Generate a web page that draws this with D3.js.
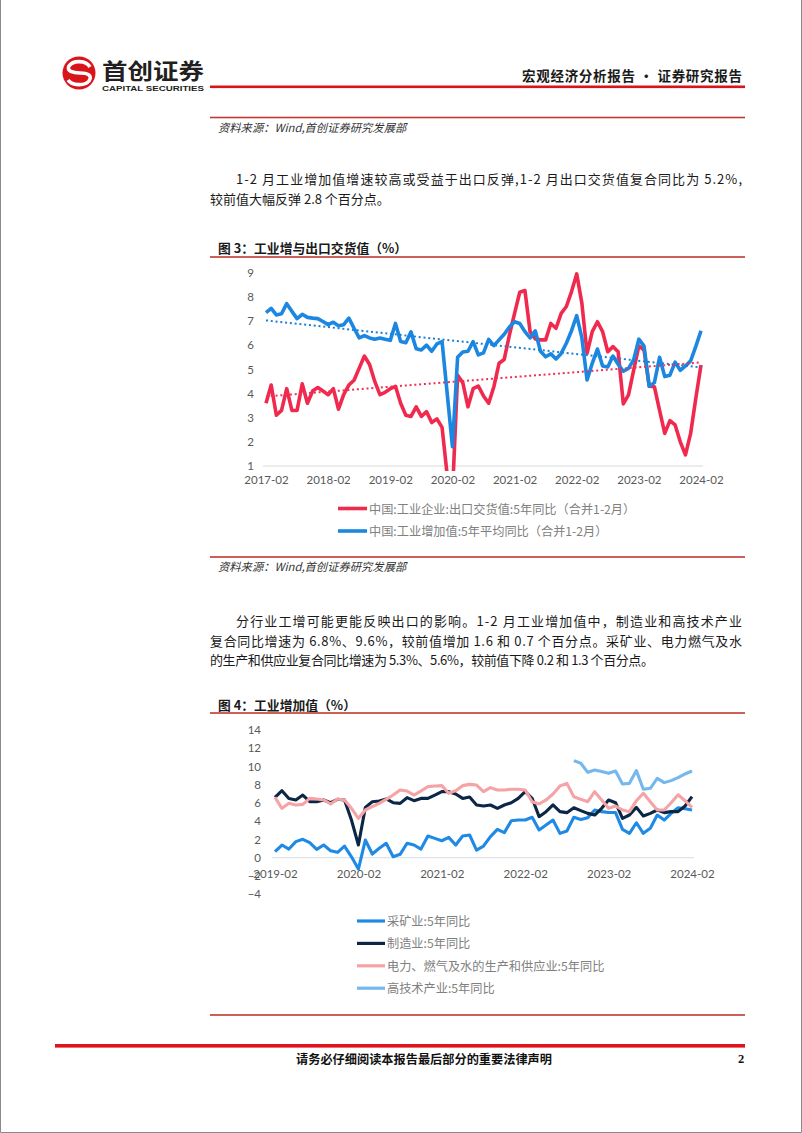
<!DOCTYPE html>
<html><head><meta charset="utf-8">
<script src="https://cdn.jsdelivr.net/npm/d3@7"></script>
<style>
html,body{margin:0;padding:0;background:#fff;}
svg{display:block;}
text{font-family:"Noto Sans CJK SC","Noto Sans",sans-serif;}
.tick text{font-family:Lato,"Open Sans",sans-serif;font-size:11.5px;fill:#595959;}
</style>
</head><body>
<svg id="page" width="802" height="1133"></svg>
<script>
// ---------------- DATA ----------------
// Chart 1 (monthly, 2017-02 .. 2024-02)
const chart1TickLabels = ["2017-02","2018-02","2019-02","2020-02","2021-02","2022-02","2023-02","2024-02"];
const chart1YTicks = [1,2,3,4,5,6,7,8,9];
const exportDeliveryYoY5 = [
  3.6,4.35,3.1,3.3,4.2,3.3,3.3,4.4,3.6,4.1,4.25,4.1,
  3.95,4.2,3.35,3.95,4.35,4.55,5.05,5.55,5.2,4.5,3.95,4.05,
  4.2,4.3,3.6,3.1,3.05,3.45,3.05,3.25,2.8,2.95,2.6,0.6,
  -0.2,4.75,4.45,3.45,4.2,4.31,3.9,3.6,4.28,5.25,5.41,6.42,
  7.32,8.19,8.26,6.56,6.26,6.22,6.22,6.9,6.7,7.32,7.6,8.22,
  8.95,7.73,5.66,6.56,6.97,6.56,5.73,5.94,5.73,3.57,3.94,4.97,
  5.97,5.8,4.3,4.28,3.3,2.35,2.88,2.7,2.0,1.46,2.35,3.8,
  5.18
];
const industrialVA5yAvg = [
  7.35,7.52,7.25,7.3,7.72,7.4,7.1,7.28,7.15,7.12,7.1,6.98,
  6.85,6.95,6.8,6.85,7.12,6.7,6.3,6.4,6.3,6.25,6.3,6.25,
  6.2,6.9,6.15,6.1,6.55,5.85,5.8,6.0,5.75,6.05,6.15,3.98,
  1.8,5.5,5.72,5.75,6.15,5.6,5.68,6.24,5.98,6.22,6.45,6.75,
  6.97,6.9,6.56,6.3,6.59,5.75,5.52,5.64,5.43,5.66,6.08,6.6,
  7.22,6.3,4.56,5.25,5.84,5.14,5.1,5.55,5.21,4.92,5.04,5.4,
  6.25,5.96,4.3,4.45,5.5,4.7,4.76,5.3,4.96,5.14,5.35,5.95,
  6.6
];
const chart1Legend = ["中国:工业企业:出口交货值:5年同比（合并1-2月）","中国:工业增加值:5年平均同比（合并1-2月）"];

// Chart 2 (monthly, 2019-02 .. 2024-02)
const chart2TickLabels = ["2019-02","2020-02","2021-02","2022-02","2023-02","2024-02"];
const chart2YTicks = [-4,-2,0,2,4,6,8,10,12,14];
const miningYoY5 = [
  0.66,1.39,0.95,1.76,2.02,1.65,0.92,1.39,0.77,0.59,1.28,0.1,
  -1.24,1.94,0.4,1.03,1.58,0.11,0.37,1.58,1.39,0.95,2.38,2.12,
  1.86,2.23,1.39,2.38,2.49,0.84,1.28,2.31,3.1,2.75,4.06,4.13,
  4.13,4.43,3.04,3.59,4.13,2.67,2.93,4.43,4.2,4.39,5.23,5.05,
  4.95,4.95,3.1,2.67,3.83,2.67,3.22,4.68,4.13,4.86,5.48,5.37,
  5.23
];
const manufacturingYoY5 = [
  6.62,7.35,6.5,6.33,6.87,6.14,6.14,6.33,6.03,6.4,6.33,4.13,
  1.39,5.52,6.14,6.22,6.44,6.03,5.96,6.58,6.25,6.5,6.5,6.87,
  7.24,7.24,6.98,6.5,6.65,5.78,5.67,5.78,5.41,5.78,6.03,6.51,
  7.24,6.51,4.5,5.05,5.78,5.05,4.94,5.48,5.16,4.86,4.68,5.41,
  6.33,6.03,4.32,4.68,5.52,4.57,4.86,5.23,4.94,5.05,5.05,5.67,
  6.69
];
const utilitiesYoY5 = [
  6.62,5.41,5.96,5.78,5.85,6.5,6.44,6.33,5.89,6.44,6.33,5.41,
  4.31,5.23,5.59,5.96,6.4,6.87,7.42,7.31,6.87,7.31,7.79,7.86,
  7.9,7.06,7.35,7.9,8.04,7.97,7.24,7.68,7.42,7.42,7.5,7.5,
  7.42,6.14,5.89,6.33,6.98,7.86,8.15,6.69,6.4,6.14,7.24,6.33,
  5.41,5.67,5.23,5.05,6.25,7.06,6.14,5.23,5.23,6.03,6.9,6.25,
  5.52
];
const hightechYoY5 = [
  null,null,null,null,null,null,null,null,null,null,null,null,
  null,null,null,null,null,null,null,null,null,null,null,null,
  null,null,null,null,null,null,null,null,null,null,null,null,
  null,null,null,null,null,null,null,10.64,10.35,9.36,9.62,9.44,
  9.25,9.51,8.08,8.15,9.55,7.5,7.61,8.7,8.23,8.45,8.78,9.18,
  9.51
];
const chart2Legend = ["采矿业:5年同比","制造业:5年同比","电力、燃气及水的生产和供应业:5年同比","高技术产业:5年同比"];

// ---------------- PAGE ----------------
const svg = d3.select('#page');
svg.append('rect').attr('width',802).attr('height',1133).attr('fill','#fff');
svg.append('path').attr('d','M0.5,0 V1132.5 H801.5 V0').attr('fill','none').attr('stroke','#8a8a8a').attr('stroke-width',1);

// logo
const logo = svg.append('g');
logo.append('circle').attr('cx',79).attr('cy',73).attr('r',16.5).attr('fill','#d9141b');
logo.append('path').attr('d','M90,67 C86,60 73,60 69,66 C66,71 73,73 80,73 C87,73 93,75 89,81 C85,86 72,86 68,80')
  .attr('fill','none').attr('stroke','#fff').attr('stroke-width',3.6);
svg.append('text').attr('x',102).attr('y',79).attr('font-size',21.5).attr('font-weight',700).attr('fill','#231f20')
  .attr('textLength',102).attr('lengthAdjust','spacingAndGlyphs').text('首创证券');
svg.append('text').attr('x',102).attr('y',90.5).attr('font-size',8).attr('font-weight',700).attr('fill','#231f20')
  .style('font-family','"Liberation Sans",Arial,sans-serif')
  .attr('textLength',102).attr('lengthAdjust','spacingAndGlyphs').text('CAPITAL SECURITIES');
svg.append('rect').attr('x',210).attr('y',85.5).attr('width',535).attr('height',2.6).attr('fill','#d7141a');
svg.append('text').attr('x',522).attr('y',75).attr('dominant-baseline','central').attr('font-size',13.5).attr('font-weight',700)
  .attr('fill','#1a1a1a').attr('textLength',220).attr('lengthAdjust','spacing').text('宏观经济分析报告 · 证券研究报告');

function sepLine(y){
  svg.append('rect').attr('x',210).attr('y',y-0.8).attr('width',535).attr('height',1.6).attr('fill','#c0392f');
}
function source(y){
  svg.append('text').attr('x',218).attr('y',y).attr('dominant-baseline','central').attr('font-size',11.3)
    .attr('font-style','italic').attr('fill','#333').text('资料来源：Wind,首创证券研究发展部');
}
function bodyLine(x,y,txt,w){
  const t = svg.append('text').attr('x',x).attr('y',y).attr('dominant-baseline','central').attr('font-size',13)
    .attr('fill','#1a1a1a').text(txt);
  if(w) t.attr('textLength',w).attr('lengthAdjust','spacing');
}
function figTitle(y,txt){
  svg.append('text').attr('x',218).attr('y',y).attr('dominant-baseline','central').attr('font-size',12.8)
    .attr('font-weight',700).attr('fill','#1a1a1a').text(txt);
}

sepLine(117.5);
source(127);
bodyLine(236,178,'1-2 月工业增加值增速较高或受益于出口反弹,1-2 月出口交货值复合同比为 5.2%,',506);
bodyLine(210,198,'较前值大幅反弹 2.8 个百分点。');
figTitle(247.5,'图 3：工业增与出口交货值（%）');
sepLine(257);

sepLine(557);
source(566);
bodyLine(236,620,'分行业工增可能更能反映出口的影响。1-2 月工业增加值中，制造业和高技术产业',506);
bodyLine(210,640,'复合同比增速为 6.8%、9.6%，较前值增加 1.6 和 0.7 个百分点。采矿业、电力燃气及水',532);
bodyLine(210,659.5,'的生产和供应业复合同比增速为 5.3%、5.6%，较前值下降 0.2 和 1.3 个百分点。',444);
figTitle(704.5,'图 4：工业增加值（%）');
sepLine(713);
sepLine(1015);

// footer
svg.append('rect').attr('x',55).attr('y',1044).attr('width',690).attr('height',3.6).attr('fill','#e0121b');
svg.append('text').attr('x',424).attr('y',1058.5).attr('text-anchor','middle').attr('dominant-baseline','central')
  .attr('font-size',12.2).attr('font-weight',700).attr('fill','#111').text('请务必仔细阅读本报告最后部分的重要法律声明');
svg.append('text').attr('x',741).attr('y',1058.5).attr('text-anchor','middle').attr('dominant-baseline','central')
  .attr('font-size',12.5).attr('font-weight',700).attr('fill','#111').style('font-family','"Liberation Serif",serif').text('2');

// ---------------- helpers ----------------
function regression(vals){
  const pts = vals.map((v,i)=>[i,v]).filter(d=>d[1]!=null);
  const mx = d3.mean(pts,d=>d[0]), my = d3.mean(pts,d=>d[1]);
  const b = d3.sum(pts,d=>(d[0]-mx)*(d[1]-my))/d3.sum(pts,d=>(d[0]-mx)*(d[0]-mx));
  return i => my + b*(i-mx);
}

// ---------------- CHART 1 ----------------
{
  const x = d3.scaleLinear().domain([0,84]).range([266,701]);
  const y = d3.scaleLinear().domain([1,9]).range([466,272.7]);
  const g = svg.append('g');
  svg.append('clipPath').attr('id','c1').append('rect').attr('x',255).attr('y',262).attr('width',455).attr('height',209);

  const ya = g.append('g').attr('transform','translate(262,0)')
    .call(d3.axisLeft(y).tickValues(chart1YTicks).tickFormat(d3.format('d')).tickSize(0).tickPadding(8));
  ya.select('.domain').remove();
  const xa = g.append('g').attr('transform',`translate(0,${y(1)})`)
    .call(d3.axisBottom(x).tickValues(chart1TickLabels.map((d,i)=>i*12)).tickFormat((d,i)=>chart1TickLabels[i]).tickSize(0).tickPadding(10));
  xa.select('.domain').remove();
  g.append('line').attr('x1',263).attr('x2',703).attr('y1',y(1)).attr('y2',y(1)).attr('stroke','#d9d9d9').attr('stroke-width',1);

  const lines = g.append('g').attr('clip-path','url(#c1)');
  const lineGen = d3.line().x((d,i)=>x(i)).y(d=>y(d));
  const series = [
    {v:exportDeliveryYoY5, c:'#f02a4e'},
    {v:industrialVA5yAvg, c:'#1b87e1'}
  ];
  series.forEach(s=>{
    lines.append('path').attr('d',lineGen(s.v)).attr('fill','none').attr('stroke',s.c)
      .attr('stroke-width',3.6).attr('stroke-linejoin','round');
  });
  // linear trendlines (least squares on the series)
  [{v:industrialVA5yAvg,c:'#1b7fd8'},{v:exportDeliveryYoY5,c:'#ef2f55'}].forEach(s=>{
    const f = regression(s.v);
    lines.append('line').attr('x1',x(0)).attr('x2',x(84)).attr('y1',y(f(0))).attr('y2',y(f(84)))
      .attr('stroke',s.c).attr('stroke-width',2).attr('stroke-dasharray','2 2.8');
  });

  // legend
  const lg = g.append('g');
  chart1Legend.forEach((t,i)=>{
    const yy = 508.5 + i*22.5;
    lg.append('line').attr('x1',338).attr('x2',367).attr('y1',yy).attr('y2',yy).attr('stroke',series[i].c).attr('stroke-width',3.6);
    lg.append('text').attr('x',369).attr('y',yy).attr('dominant-baseline','central').attr('font-size',12.2).attr('fill','#808080').text(t);
  });
}

// ---------------- CHART 2 ----------------
{
  const x = d3.scaleLinear().domain([0,60]).range([275,692]);
  const y = d3.scaleLinear().domain([-4,14]).range([894.2,730]);
  const g = svg.append('g');
  svg.append('clipPath').attr('id','c2').append('rect').attr('x',265).attr('y',722).attr('width',440).attr('height',176);

  const ya = g.append('g').attr('transform','translate(268,0)')
    .call(d3.axisLeft(y).tickValues(chart2YTicks).tickFormat(d3.format('d')).tickSize(0).tickPadding(7));
  ya.select('.domain').remove();
  g.append('line').attr('x1',272).attr('x2',694).attr('y1',y(0)).attr('y2',y(0)).attr('stroke','#d6dce5').attr('stroke-width',1);
  const xa = g.append('g').attr('transform',`translate(0,${y(0)})`)
    .call(d3.axisBottom(x).tickValues(chart2TickLabels.map((d,i)=>i*12)).tickFormat((d,i)=>chart2TickLabels[i]).tickSize(0).tickPadding(12));
  xa.select('.domain').remove();

  const lines = g.append('g').attr('clip-path','url(#c2)');
  const lineGen = d3.line().defined(d=>d!=null).x((d,i)=>x(i)).y(d=>y(d));
  const series = [
    {v:miningYoY5, c:'#1f8ae6'},
    {v:manufacturingYoY5, c:'#0c2646'},
    {v:utilitiesYoY5, c:'#f5a3a6'},
    {v:hightechYoY5, c:'#74b8ee'}
  ];
  series.forEach(s=>{
    lines.append('path').attr('d',lineGen(s.v)).attr('fill','none').attr('stroke',s.c)
      .attr('stroke-width',3.1).attr('stroke-linejoin','round');
  });

  const lg = g.append('g');
  chart2Legend.forEach((t,i)=>{
    const yy = 921 + i*22.4;
    lg.append('line').attr('x1',357).attr('x2',385).attr('y1',yy).attr('y2',yy).attr('stroke',series[i].c).attr('stroke-width',3.2);
    lg.append('text').attr('x',387).attr('y',yy).attr('dominant-baseline','central').attr('font-size',12.2).attr('fill','#808080').text(t);
  });
}
</script>
</body></html>
